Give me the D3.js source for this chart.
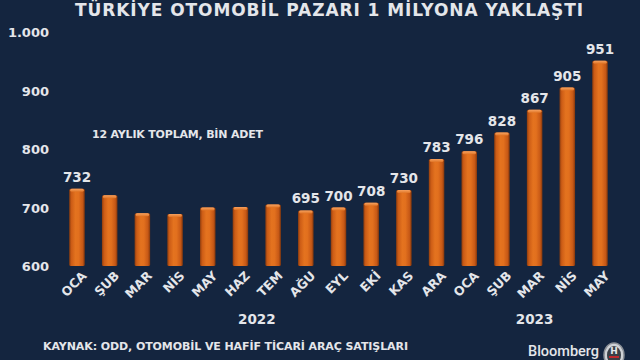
<!DOCTYPE html>
<html><head><meta charset="utf-8">
<script src="https://cdn.jsdelivr.net/npm/d3@7"></script>
<style>
html,body{margin:0;padding:0;background:#14253f;}
svg{display:block;}
text{font-family:"DejaVu Sans",Verdana,sans-serif;font-weight:bold;fill:#e4e6ea;}
</style></head>
<body>
<svg id="c" width="640" height="360"></svg>
<script>
const months = ["OCA","ŞUB","MAR","NİS","MAY","HAZ","TEM","AĞU","EYL","EKİ","KAS","ARA","OCA","ŞUB","MAR","NİS","MAY"];
const values = [732,721,690,689,700,701,705,695,700,708,730,783,796,828,867,905,951];
const showLabel = [true,false,false,false,false,false,false,true,true,true,true,true,true,true,true,true,true];
const yTicks = [600,700,800,900,1000];
const years = [{label:"2022", from:0, to:11},{label:"2023", from:12, to:16}];
const title = "TÜRKİYE OTOMOBİL PAZARI 1 MİLYONA YAKLAŞTI";
const subtitle = "12 AYLIK TOPLAM, BİN ADET";
const source = "KAYNAK: ODD, OTOMOBİL VE HAFİF TİCARİ ARAÇ SATIŞLARI";

const svg = d3.select("#c");
const idx = d3.range(months.length);
const x = d3.scalePoint().domain(idx).range([77,600]);
const y = d3.scaleLinear().domain([600,1000]).range([266,32]);
const bw = 15.5;

const defs = svg.append("defs");
const g1 = defs.append("linearGradient").attr("id","barg").attr("x1","0").attr("x2","1").attr("y1","0").attr("y2","0");
[["0%","#8e3d0e"],["14%","#cc5c16"],["40%","#e4731f"],["60%","#e2701e"],["86%","#c65816"],["100%","#83370c"]]
  .forEach(s=>g1.append("stop").attr("offset",s[0]).attr("stop-color",s[1]));
const g2 = defs.append("linearGradient").attr("id","capg").attr("x1","0").attr("x2","0").attr("y1","0").attr("y2","1");
[["0%","#f7a260"],["100%","#e07526"]].forEach(s=>g2.append("stop").attr("offset",s[0]).attr("stop-color",s[1]));

// title
svg.append("text").attr("x",75).attr("y",16).attr("font-size",17)
  .attr("textLength",508).attr("lengthAdjust","spacing").attr("fill","#e6e8ec").text(title);

// y axis
const ya = d3.axisLeft(y).tickValues(yTicks).tickSize(0).tickPadding(0)
  .tickFormat(d=>d3.format(",")(d).replace(",", "."));
const yg = svg.append("g").attr("transform","translate(49,0)").call(ya);
yg.select(".domain").remove();
yg.selectAll("text").attr("font-size",13).attr("fill","#e4e6ea").attr("dy","0.35em")
  .style("font-family","DejaVu Sans, Verdana, sans-serif").style("font-weight","bold");

// subtitle
svg.append("text").attr("x",92).attr("y",138).attr("font-size",11).attr("textLength",171).attr("lengthAdjust","spacing").text(subtitle);

// bars
const bars = svg.append("g");
bars.selectAll("rect.bar").data(idx).join("rect").attr("class","bar")
  .attr("x",i=>x(i)-bw/2).attr("width",bw)
  .attr("y",i=>y(values[i])).attr("height",i=>y(600)-y(values[i]))
  .attr("fill","url(#barg)").attr("rx",1.5);
bars.selectAll("rect.cap").data(idx).join("rect").attr("class","cap")
  .attr("x",i=>x(i)-bw/2+1).attr("width",bw-2)
  .attr("y",i=>y(values[i])).attr("height",3)
  .attr("fill","url(#capg)").attr("rx",1.5);

// value labels
svg.append("g").selectAll("text").data(idx.filter(i=>showLabel[i])).join("text")
  .attr("x",i=>x(i)).attr("y",i=>y(values[i])-7).attr("text-anchor","middle")
  .attr("font-size",13.5).text(i=>values[i]);

// x axis labels
const xa = d3.axisBottom(x).tickSize(0).tickPadding(0).tickFormat(i=>months[i]);
const xg = svg.append("g").attr("transform","translate(1,273)").call(xa);
xg.select(".domain").remove();
xg.selectAll("text").attr("font-size",12.5).attr("fill","#e4e6ea")
  .style("font-family","DejaVu Sans, Verdana, sans-serif").style("font-weight","bold")
  .attr("text-anchor","end").attr("dy","0.7em").attr("dx","0.3em")
  .attr("transform","rotate(-45)").attr("y",0).attr("x",0);

// year labels
svg.append("g").selectAll("text").data(years).join("text")
  .attr("x",d=>(x(d.from)+x(d.to))/2).attr("y",324).attr("text-anchor","middle")
  .attr("font-size",13.5).text(d=>d.label);

// source
svg.append("text").attr("x",43).attr("y",350).attr("font-size",11).attr("textLength",365).attr("lengthAdjust","spacing").text(source);

// Bloomberg logo
svg.append("text").attr("x",528).attr("y",356).attr("font-size",14.5)
  .style("font-family","Roboto, 'Open Sans', sans-serif").style("font-weight","500").attr("fill","#f0f0f0").text("Bloomberg");
const lg = svg.append("g").attr("transform","translate(614,355)");
lg.append("ellipse").attr("rx",10).attr("ry",12).attr("fill","#cfd2d6").attr("stroke","#8a8f96").attr("stroke-width",1.5);
lg.append("ellipse").attr("rx",7).attr("ry",9).attr("fill","#3a3f46");
lg.append("text").attr("x",0).attr("y",-1).attr("text-anchor","middle").attr("font-size",9).attr("fill","#f0f0f0").text("H");
lg.append("rect").attr("x",-5).attr("y",1).attr("width",10).attr("height",2).attr("fill","#c0282d");
</script>
</body></html>
